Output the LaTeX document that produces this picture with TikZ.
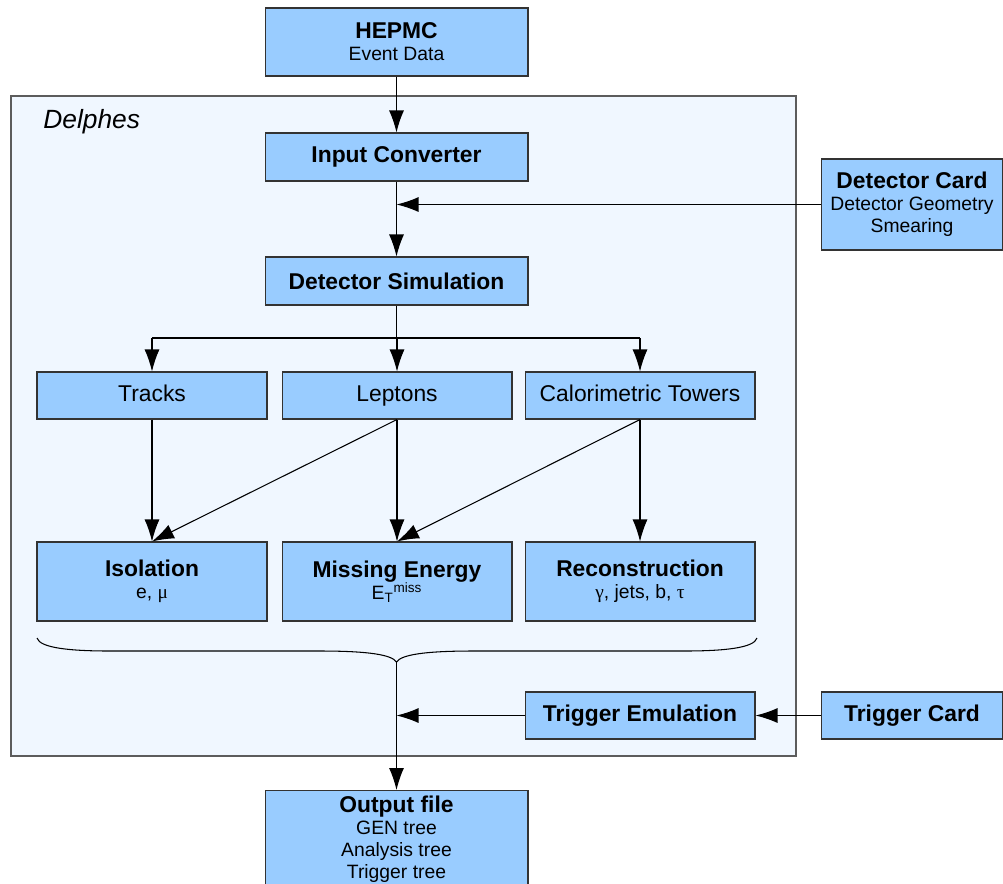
\documentclass[tikz,border=0pt]{standalone}
\usepackage{fontspec}
\setmainfont{Liberation Sans}
\newfontfamily\greekfont{Liberation Serif}
\usetikzlibrary{arrows.meta}
\definecolor{boxblue}{RGB}{153,204,255}
\definecolor{paleblue}{RGB}{240,247,255}
\definecolor{linegray}{RGB}{51,51,51}
\newcommand{\boxtitle}[1]{{\fontsize{13}{15}\selectfont\bfseries #1}}

\begin{document}
\begin{tikzpicture}[x=0.02cm,y=-0.02cm,>={Latex[length=0.44cm,width=0.3cm]},line width=0.6pt]
            \tikzstyle{block}=[rectangle,draw=linegray,fill=boxblue,align=center,inner sep=2pt,minimum width=5.26cm,font=\fontsize{11}{12.5}\selectfont]
            \tikzstyle{cell}=[block,minimum width=4.6cm,minimum height=0.94cm]
            \tikzstyle{card}=[block,minimum width=3.64cm]
            \clip (0,0) rectangle (1003,883);
            \draw[draw=linegray!80,fill=paleblue] (11,96) rectangle (796,756);
            \node[anchor=west,font=\fontsize{15}{18}\selectfont\itshape] (delphes) at (37,122) {Delphes};

            \node[block,minimum height=1.36cm] (hepmc) at (396.5,42) {\boxtitle{HEPMC}\\Event Data};
            \node[block,minimum height=0.96cm] (conv) at (396.5,157) {\boxtitle{Input Converter}};
            \node[block,minimum height=0.96cm] (sim) at (396.5,281) {\boxtitle{Detector Simulation}};
            \node[card,minimum height=1.82cm] (detcard) at (912,204.5) {\boxtitle{Detector Card}\\Detector Geometry\\Smearing};

            \foreach \name/\x/\txt in {trk/152/Tracks, lep/397/Leptons, calo/640/Calorimetric Towers}
                    \node[cell,font=\fontsize{13}{15}\selectfont,text height=9.5pt,text depth=2.5pt] (\name) at (\x,395.5) {\txt};

            \node[cell,minimum height=1.58cm] (iso) at (152,581.5) {\boxtitle{Isolation}\\e, {\greekfont μ}};
            \node[cell,minimum height=1.58cm] (miss) at (397,581.5) {\boxtitle{Missing Energy}\\E\textsubscript{T}\textsuperscript{miss}};
            \node[cell,minimum height=1.58cm] (reco) at (640,581.5) {\boxtitle{Reconstruction}\\{\greekfont γ}, jets, b, {\greekfont τ}};

            \node[cell] (trigemu) at (640,715.5) {\boxtitle{Trigger Emulation}};
            \node[card,minimum height=0.94cm] (trigcard) at (912,715.5) {\boxtitle{Trigger Card}};
            \node[block,anchor=north,inner ysep=3pt] (out) at (396.5,790) {\boxtitle{Output file}\\GEN tree\\Analysis tree\\Trigger tree};

            \coordinate (fork) at (396.5,338);
            \coordinate (brace) at (396.5,662);

            \draw[->] (hepmc) -- (conv);
            \draw[->] (conv) -- (sim);
            \draw[->] (detcard) -- (detcard -| conv);
            \draw (sim) -- (fork);
            \draw (fork -| trk) -- (fork -| calo);
            \foreach \name in {trk, lep, calo}
                    \draw[->] (fork -| \name) -- (\name);
            \foreach \from/\to in {trk/iso, lep/iso, lep/miss, calo/miss, calo/reco}
                    \draw[->] (\from.south) -- (\to.north);

            \draw (37,638) .. controls (40,648) and (70,651) .. (110,651) -- (320,651)
                  .. controls (370,651) and (392,655) .. (brace)
                  .. controls (401,655) and (423,651) .. (473,651) -- (684,651)
                  .. controls (724,651) and (754,648) .. (757,638);
            \draw[->] (brace) -- (out);
            \draw[->] (trigcard) -- (trigemu);
            \draw[->] (trigemu) -- (trigemu -| out);
        \end{tikzpicture}
\end{document}
